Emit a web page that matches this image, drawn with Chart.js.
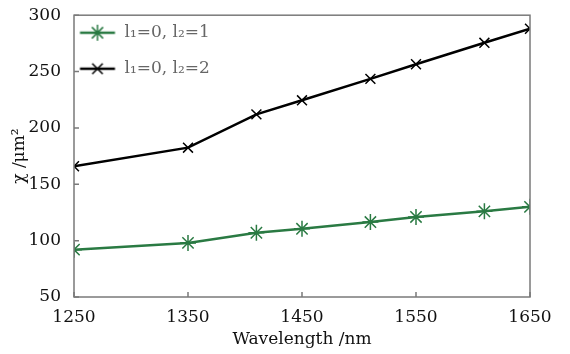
<!DOCTYPE html>
<html>
<head>
<meta charset="utf-8">
<script src="https://cdn.jsdelivr.net/npm/chart.js@4.4.1/dist/chart.umd.min.js"></script>
<style>
  html, body { margin: 0; padding: 0; background: #fff; }
  #wrap { width: 570px; height: 354px; }
</style>
</head>
<body>
<div id="wrap"><canvas id="chi-chart"></canvas></div>
<script>
// Data til grafen
var wavelengths = [1250, 1350, 1410, 1450, 1510, 1550, 1610, 1650];
var chiL2eq1 = [92, 98, 107, 110.5, 116.5, 121, 126, 130];
var chiL2eq2 = [166, 182.5, 212, 224.5, 243.5, 256.5, 275.5, 288];
var xTicks = [1250, 1350, 1450, 1550, 1650];
var yTicks = [50, 100, 150, 200, 250, 300];
var seriesLabels = ["l\u2081=0, l\u2082=1", "l\u2081=0, l\u2082=2"];

var green = "#2a7a43";
var fontName = "'DejaVu Serif', serif";

function toPoints(ys) {
    return wavelengths.map(function (w, i) { return { x: w, y: ys[i] }; });
}

// Lille billede af linje + markør til legenden
function legendIcon(color, style) {
    var c = document.createElement("canvas");
    c.width = 60; c.height = 18;
    var g = c.getContext("2d");
    var x0 = 5.5, cx = x0 + 17.5, cy = 9;
    g.strokeStyle = color;
    g.lineWidth = 2.5;
    g.beginPath(); g.moveTo(x0, cy); g.lineTo(x0 + 35, cy); g.stroke();
    g.lineWidth = 1.5;
    g.beginPath();
    var r = 8;
    if (style === "star") {
        g.moveTo(cx, cy - r); g.lineTo(cx, cy + r);
        var d = r * 0.7;
        g.moveTo(cx - d, cy - d); g.lineTo(cx + d, cy + d);
        g.moveTo(cx - d, cy + d); g.lineTo(cx + d, cy - d);
    } else {
        var e = 7 * 0.75;
        g.moveTo(cx - e, cy - e); g.lineTo(cx + e, cy + e);
        g.moveTo(cx - e, cy + e); g.lineTo(cx + e, cy - e);
    }
    g.stroke();
    return c;
}

var icons = [legendIcon(green, "star"), legendIcon("#000", "crossRot")];

// Ramme og indadvendte tick-mærker
var frame = {
    id: "frame",
    afterDraw: function (chart) {
        var a = chart.chartArea, g = chart.ctx;
        var xs = chart.scales.x, ys = chart.scales.y;
        g.save();
        g.strokeStyle = "#7a7a7a";
        g.lineWidth = 1.5;
        g.strokeRect(a.left, a.top, a.right - a.left, a.bottom - a.top);
        g.beginPath();
        xTicks.forEach(function (v) {
            var px = xs.getPixelForValue(v);
            g.moveTo(px, a.bottom); g.lineTo(px, a.bottom - 5);
        });
        yTicks.forEach(function (v) {
            var py = ys.getPixelForValue(v);
            g.moveTo(a.left, py); g.lineTo(a.left + 5, py);
        });
        g.stroke();
        g.restore();
    }
};

var ctx = document.getElementById("chi-chart").getContext("2d");
var chart = new Chart(ctx, {
    type: "line",
    data: {
        datasets: [{
            label: seriesLabels[0],
            data: toPoints(chiL2eq1),
            borderColor: green,
            backgroundColor: green,
            borderWidth: 2.5,
            pointStyle: "star",
            pointRadius: 8,
            pointBorderWidth: 1.5,
            pointBorderColor: green,
            fill: false
        }, {
            label: seriesLabels[1],
            data: toPoints(chiL2eq2),
            borderColor: "#000",
            backgroundColor: "#000",
            borderWidth: 2.5,
            pointStyle: "crossRot",
            pointRadius: 7,
            pointBorderWidth: 1.5,
            pointBorderColor: "#000",
            fill: false
        }]
    },
    options: {
        responsive: true,
        maintainAspectRatio: false,
        animation: false,
        layout: { padding: { top: 13, right: 40, left: 0, bottom: 0 } },
        plugins: {
            tooltip: { enabled: false },
            legend: {
                position: "chartArea",
                align: "start",
                title: { display: true, text: "", font: { size: 1 }, padding: { top: 2, bottom: 2 } },
                labels: {
                    usePointStyle: true,
                    pointStyleWidth: 23,
                    color: "#111",
                    font: { family: fontName, size: 17 },
                    padding: 19,
                    generateLabels: function (ch) {
                        return ch.data.datasets.map(function (ds, i) {
                            return {
                                text: ds.label,
                                pointStyle: icons[i],
                                fillStyle: ds.borderColor,
                                strokeStyle: ds.borderColor,
                                lineWidth: 0,
                                datasetIndex: i,
                                hidden: false
                            };
                        });
                    }
                }
            }
        },
        scales: {
            x: {
                type: "linear",
                min: 1250,
                max: 1650,
                afterFit: function (s) { s.height = 57; },
                afterBuildTicks: function (s) { s.ticks = xTicks.map(function (v) { return { value: v }; }); },
                grid: { display: false },
                border: { display: false },
                ticks: {
                    color: "#111", font: { family: fontName, size: 17 }, padding: 2, maxRotation: 0,
                    callback: function (v) { return String(v); }
                },
                title: { display: true, text: "Wavelength /nm", color: "#111", font: { family: fontName, size: 17 }, padding: { top: 0 } }
            },
            y: {
                min: 50,
                max: 300,
                afterFit: function (s) { s.width = 74; },
                afterBuildTicks: function (s) { s.ticks = yTicks.map(function (v) { return { value: v }; }); },
                grid: { display: false },
                border: { display: false },
                ticks: { color: "#111", font: { family: fontName, size: 17 }, padding: 5 },
                title: { display: true, text: "\u03c7 /\u03bcm\u00b2", color: "#111", font: { family: fontName, size: 17 }, padding: { top: 9, bottom: 0 } }
            }
        }
    },
    plugins: [frame]
});
</script>
</body>
</html>
